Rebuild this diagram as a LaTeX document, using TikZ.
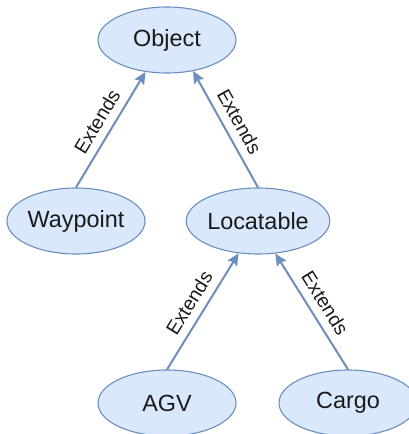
\documentclass[tikz,border=0pt]{standalone}
\usepackage{fontspec}
\setmainfont{Liberation Sans}
\usetikzlibrary{shapes.geometric,arrows.meta}
\definecolor{nodefill}{HTML}{DAE8FC}
\definecolor{nodeline}{HTML}{6C8EBF}
\definecolor{txt}{HTML}{1A1A1A}
\tikzset{
  cls/.style={ellipse, draw=nodeline, fill=nodefill, line width=1.1pt,
    minimum width=138pt, minimum height=66pt, inner sep=0pt,
    text=txt, font=\fontsize{23.4}{28}\selectfont},
  ext/.style={draw=nodeline, line width=2pt,
    -{Stealth[length=12pt,width=11pt,inset=2pt]}},
  lbl/.style={midway, sloped, above=4.5pt, text=txt,
    font=\fontsize{19.5}{23}\selectfont}
}
\begin{document}
\begin{tikzpicture}[x=1pt,y=-1pt]
  \useasboundingbox (0,0) rectangle (409,434);
  % class nodes
  \node[cls] (obj) at (167,40)  {Object};
  \node[cls] (wp)  at (76,221)  {Waypoint};
  \node[cls] (loc) at (258,221) {Locatable};
  \node[cls] (agv) at (167,403) {AGV};
  \node[cls] (cgo) at (348,403) {Cargo};
  % inheritance links
  \draw[ext] (wp.north)  -- (obj.-124) node[lbl] {Extends};
  \draw[ext] (loc.north) -- (obj.-50)  node[lbl] {Extends};
  \draw[ext] (agv.north) -- (loc.-121) node[lbl] {Extends};
  \draw[ext] (cgo.north) -- (loc.-62)  node[lbl] {Extends};
\end{tikzpicture}
\end{document}
